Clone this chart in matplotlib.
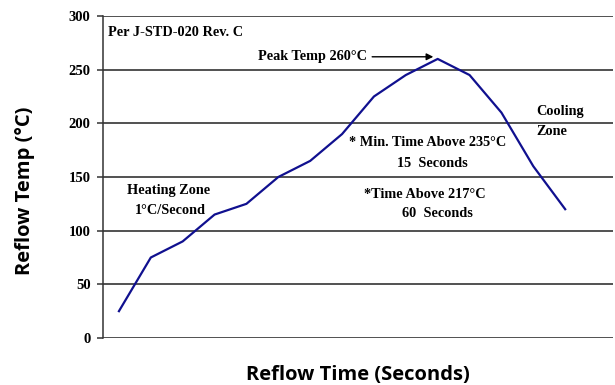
import matplotlib.pyplot as plt
import numpy as np

# reflow profile
steps = np.arange(15)
temps = [25, 75, 90, 115, 125, 150, 165, 190, 225, 245, 260, 245, 210, 160, 120]
y_ticks = [0, 50, 100, 150, 200, 250, 300]

serif = 'Liberation Serif'
sans = 'Open Sans'

fig = plt.figure(figsize=(6.15, 3.85), dpi=100)
ax = fig.add_axes([103 / 615, 1 - 338 / 385, 510 / 615, 322 / 385])

ax.plot(steps, temps, color='#10108f', lw=1.6)

ax.set_xlim(-0.5, 15.5)
ax.set_ylim(0, 300)
ax.set_yticks(y_ticks)
ax.set_yticklabels([str(v) for v in y_ticks], fontfamily=serif, fontweight='bold', fontsize=10.5)
ax.set_xticks([])
ax.yaxis.grid(True, color='#222222', lw=1.1)
ax.set_axisbelow(True)
for s in ['top', 'right', 'bottom']:
    ax.spines[s].set_visible(False)
ax.spines['left'].set_color('#333333')
ax.spines['left'].set_linewidth(1.1)
ax.tick_params(axis='y', length=4, width=1.1, color='#333333', pad=5)

# axis titles placed where the reference has them
fig.text(25 / 615, 1 - 191 / 385, 'Reflow Temp (°C)', rotation=90, ha='center', va='center',
         fontfamily=sans, fontweight='bold', fontsize=14.5)
fig.text(358 / 615, 1 - 375 / 385, 'Reflow Time (Seconds)', ha='center', va='center',
         fontfamily=sans, fontweight='bold', fontsize=14.5)

# annotations
txt = dict(fontfamily=serif, fontweight='bold', fontsize=10.3, va='center')
ax.text(0.01, 0.95, 'Per J-STD-020 Rev. C', transform=ax.transAxes, ha='left', **txt)
ax.annotate('Peak Temp 260°C', xy=(9.95, 262), xytext=(4.35, 262), ha='left',
            arrowprops=dict(arrowstyle='-|>', color='black', lw=1.0, mutation_scale=10), **txt)
ax.text(1.57, 137, 'Heating Zone', ha='center', **txt)
ax.text(1.6, 119, '1°C/Second', ha='center', **txt)
ax.text(9.68, 182, '* Min. Time Above 235°C', ha='center', **txt)
ax.text(9.82, 163, '15  Seconds', ha='center', **txt)
ax.text(9.59, 134, '*Time Above 217°C', ha='center', **txt)
ax.text(9.99, 116, '60  Seconds', ha='center', **txt)
ax.text(13.1, 211, 'Cooling', ha='left', **txt)
ax.text(13.1, 192, 'Zone', ha='left', **txt)

plt.savefig('out.png', dpi=100)
